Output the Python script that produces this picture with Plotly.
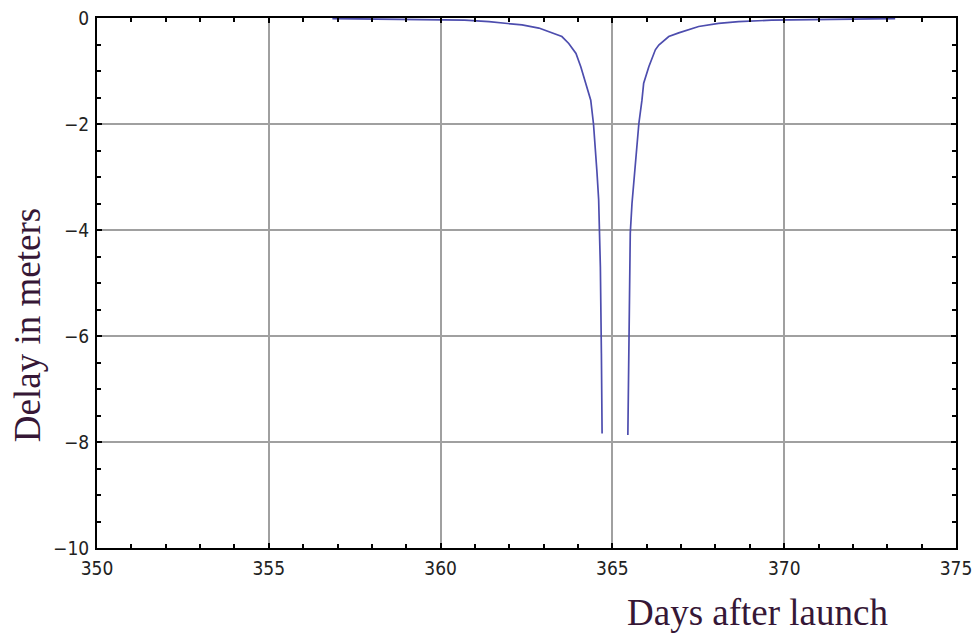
import plotly.graph_objects as go

# Left branch of the delay curve (days, meters)
left_days = [356.85, 358.0, 359.0, 359.96, 360.7, 361.41, 361.99, 362.37, 362.86, 363.15,
             363.53, 363.73, 363.94, 364.08, 364.23, 364.37, 364.45, 364.51, 364.55, 364.60,
             364.62, 364.65, 364.68, 364.70]
left_delay = [-0.01, -0.015, -0.02, -0.025, -0.04, -0.07, -0.10, -0.13, -0.19, -0.26,
              -0.35, -0.48, -0.67, -0.92, -1.23, -1.55, -2.0, -2.46, -2.9, -3.43,
              -4.0, -4.7, -6.33, -7.84]

# Right branch of the delay curve
right_days = [365.45, 365.48, 365.50, 365.52, 365.57, 365.65, 365.72, 365.77, 365.86, 365.91,
              366.06, 366.25, 366.35, 366.64, 366.93, 367.51, 368.09, 368.67, 369.63, 370.5,
              371.5, 372.5, 373.23]
right_delay = [-7.87, -6.26, -4.94, -4.06, -3.5, -2.9, -2.3, -1.99, -1.55, -1.23,
               -0.92, -0.60, -0.51, -0.35, -0.28, -0.16, -0.10, -0.07, -0.04, -0.03,
               -0.02, -0.015, -0.01]

x_ticks = [350, 355, 360, 365, 370, 375]
y_ticks = [0, -2, -4, -6, -8, -10]

x_title = "Days after launch"
y_title = "Delay in meters"

line_color = "#4d4dae"
title_color = "#361736"
tick_font = dict(family="Liberation Sans Narrow, DejaVu Sans Condensed, Liberation Sans, Arial, sans-serif",
                 size=19, color="#222222")

fig = go.Figure()
fig.add_trace(go.Scatter(x=left_days + [None] + right_days,
                         y=left_delay + [None] + right_delay,
                         mode="lines", line=dict(color=line_color, width=1.7),
                         connectgaps=False, showlegend=False))

axis_common = dict(showline=True, linecolor="black", linewidth=2, mirror="allticks",
                   showgrid=True, gridcolor="#a0a0a0", gridwidth=2,
                   ticks="inside", ticklen=5, tickcolor="black", tickwidth=2,
                   tickfont=tick_font, zeroline=False, automargin=False)

fig.update_xaxes(range=[350, 375], tickvals=x_ticks, ticktext=[str(v) for v in x_ticks],
                 minor=dict(dtick=1, ticks="inside", ticklen=4, tickcolor="black", tickwidth=2,
                            showgrid=False),
                 ticklabelstandoff=2, **axis_common)
fig.update_yaxes(range=[-10, 0], tickvals=y_ticks,
                 minor=dict(dtick=0.5, ticks="inside", ticklen=4, tickcolor="black", tickwidth=2,
                            showgrid=False),
                 ticklabelstandoff=2, **axis_common)

fig.add_annotation(text=x_title, xref="paper", yref="paper", x=0.769, y=-0.1226,
                   xanchor="center", yanchor="middle", showarrow=False,
                   font=dict(family="Liberation Serif, Times New Roman, serif", size=37,
                             color=title_color))
fig.add_annotation(text=y_title, xref="paper", yref="paper", x=-0.080, y=0.421,
                   xanchor="center", yanchor="middle", showarrow=False, textangle=-90,
                   font=dict(family="Liberation Serif, Times New Roman, serif", size=37,
                             color=title_color))

fig.update_layout(width=975, height=635, margin=dict(l=97, r=19, t=18, b=87),
                  plot_bgcolor="white", paper_bgcolor="white")

fig.write_html("out.html", config={"displayModeBar": False},
               post_script="document.body.style.margin='0px';document.body.style.overflow='hidden';")
